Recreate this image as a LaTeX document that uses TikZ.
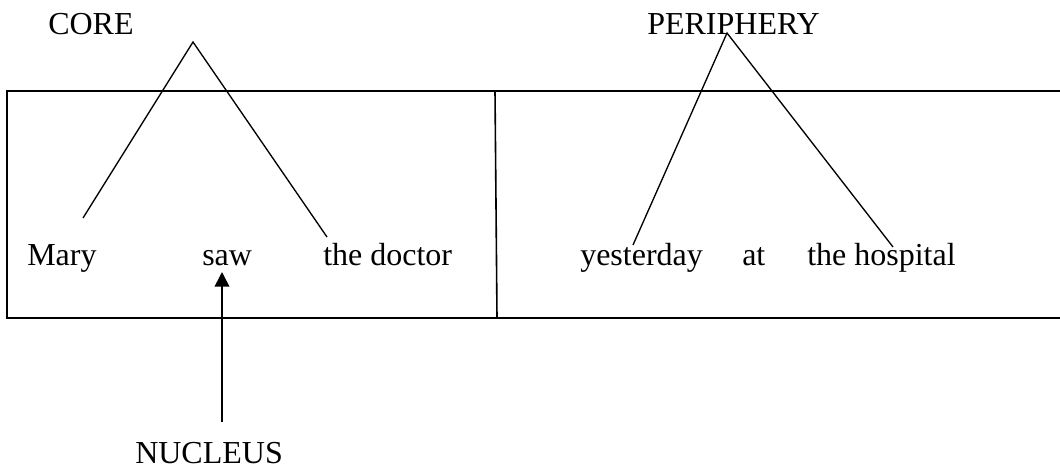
\documentclass[tikz,border=0pt]{standalone}
\usepackage{fontspec}
\setmainfont{Liberation Serif}
\usetikzlibrary{arrows.meta}

\tikzset{
  word/.style={font=\fontsize{24}{28}\selectfont, inner sep=0, anchor=base west},
  frame line/.style={line width=1.2pt},
  leg/.style={line width=1pt},
  nuc arrow/.style={-{Triangle[length=11pt,width=11pt]}, line width=1.2pt},
}

\begin{document}
\begin{tikzpicture}[x=0.75pt, y=-0.75pt]
    % one unit = one pixel of the 1060x471 reference
    \useasboundingbox (0,0) rectangle (1060,471);

    % === Clause frame: core | periphery ===
    \draw[frame line] (1060,91) -- (7,91) -- (7,318) -- (1060,318);
    \draw[frame line] (495,91) -- (497,318);

    % === Labels ===
    \node[word] (core) at (48,34)  {CORE};
    \node[word] (peri) at (647,34) {PERIPHERY};
    \node[word] (nuc)  at (135,463) {NUCLEUS};

    % === Words (baseline y=265) ===
    \node[word] (mary)   at (27,265)  {Mary};
    \node[word] (saw)    at (202,265) {saw};
    \node[word] (doctor) at (323,265) {the doctor};
    \node[word] (yday)   at (580,265) {yesterday};
    \node[word] (at)     at (742,265) {at};
    \node[word] (hosp)   at (807,265) {the hospital};

    % === Branches ===
    \coordinate (core top)   at (193,42);
    \coordinate (core left)  at (83,218);
    \coordinate (core right) at (327,237);
    \draw[leg] (core left) -- (core top) -- (core right);

    \coordinate (peri top)   at (727,33);
    \coordinate (peri left)  at (633,245);
    \coordinate (peri right) at (893,247);
    \draw[leg] (peri left) -- (peri top) -- (peri right);

    % === Nucleus arrow ===
    \coordinate (nuc tail) at (222,422);
    \coordinate (nuc tip)  at (222,272);
    \draw[nuc arrow] (nuc tail) -- (nuc tip);

  \end{tikzpicture}
\end{document}
